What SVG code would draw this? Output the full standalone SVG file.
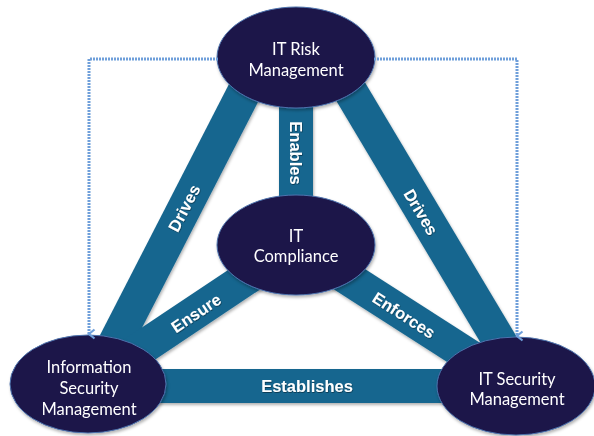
<svg xmlns="http://www.w3.org/2000/svg" width="594" height="436" viewBox="0 0 594 436">
  <defs>
    <style>
      .bar { fill: none; stroke: #17668f; stroke-width: 34; stroke-linecap: butt; }
      .node { fill: #1b1449; stroke: #4d73ad; stroke-width: 1; }
      .ntext { font-family: Lato, "Open Sans", sans-serif; font-size: 16.5px; fill: #ffffff; text-anchor: middle; }
      .btext { font-family: "Liberation Sans", Arial, sans-serif; font-weight: bold; font-size: 16.5px; fill: #ffffff; text-anchor: middle; }
      .dash { fill: none; stroke: #6f9fda; stroke-width: 3; stroke-dasharray: 2 1; }
    </style>
    <filter id="shadow" x="-20%" y="-20%" width="140%" height="140%">
      <feDropShadow dx="1" dy="2" stdDeviation="1.5" flood-color="#000000" flood-opacity="0.3"/>
    </filter>
    <filter id="tshadow" x="-20%" y="-40%" width="140%" height="180%">
      <feDropShadow dx="0.5" dy="0.8" stdDeviation="0.6" flood-color="#000000" flood-opacity="0.5"/>
    </filter>
    <marker id="arrow" viewBox="0 0 12 10" refX="6" refY="8" markerWidth="12" markerHeight="10" markerUnits="userSpaceOnUse" orient="auto">
      <path d="M1.5,2.5 L6,8 L10.5,2.5" fill="none" stroke="#6f9fda" stroke-width="2.2"/>
    </marker>
  </defs>
  <rect width="594" height="436" fill="#ffffff"/>

  <g id="connectors">
    <g filter="url(#shadow)">
      <line class="bar" x1="262" y1="57" x2="94" y2="384"/>
      <line class="bar" x1="330" y1="57" x2="525" y2="384"/>
      <line class="bar" x1="296" y1="57" x2="296" y2="245"/>
      <line class="bar" x1="296" y1="245" x2="88" y2="384"/>
      <line class="bar" x1="296" y1="245" x2="516" y2="386"/>
      <line class="bar" x1="88" y1="386" x2="516" y2="386"/>
    </g>
    <g filter="url(#tshadow)">
      <text class="btext" transform="translate(184,208) rotate(-62.8)" dy="0.36em">Drives</text>
      <text class="btext" transform="translate(421,212) rotate(59.2)" dy="0.36em">Drives</text>
      <text class="btext" transform="translate(296,153) rotate(90)" dy="0.36em">Enables</text>
      <text class="btext" transform="translate(196,313) rotate(-33.6)" dy="0.36em">Ensure</text>
      <text class="btext" transform="translate(404,315) rotate(32.7)" dy="0.36em">Enforces</text>
      <text class="btext" x="307" y="392">Establishes</text>
    </g>
  </g>

  <g id="node-risk" filter="url(#shadow)">
    <ellipse class="node" cx="296" cy="57.5" rx="79" ry="50.5"/>
    <text class="ntext" x="296" y="55">IT Risk</text>
    <text class="ntext" x="296" y="76">Management</text>
  </g>
  <g id="node-compliance" filter="url(#shadow)">
    <ellipse class="node" cx="296" cy="245" rx="79" ry="50"/>
    <text class="ntext" x="296" y="242">IT</text>
    <text class="ntext" x="296" y="262">Compliance</text>
  </g>
  <g id="node-infosec" filter="url(#shadow)">
    <ellipse class="node" cx="88" cy="384" rx="78" ry="49"/>
    <text class="ntext" x="89" y="373">Information</text>
    <text class="ntext" x="89" y="394">Security</text>
    <text class="ntext" x="89" y="415">Management</text>
  </g>
  <g id="node-itsec" filter="url(#shadow)">
    <ellipse class="node" cx="516" cy="386" rx="79" ry="49"/>
    <text class="ntext" x="517" y="385">IT Security</text>
    <text class="ntext" x="517" y="405">Management</text>
  </g>

  <g id="dashed-connectors">
    <path class="dash" d="M218,59 L89,59 L89,334" marker-end="url(#arrow)"/>
    <path class="dash" d="M374,59 L517,59 L517,336" marker-end="url(#arrow)"/>
  </g>
</svg>
